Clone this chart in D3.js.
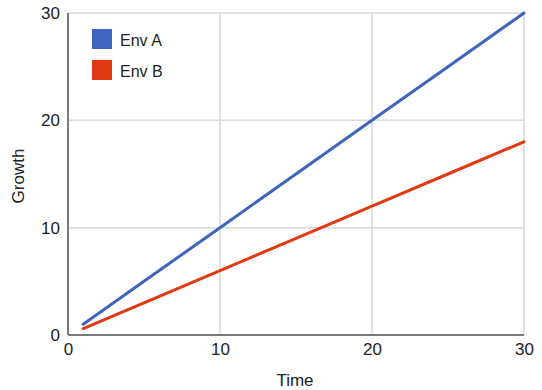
<!DOCTYPE html>
<html>
<head>
<meta charset="utf-8">
<script src="https://cdn.jsdelivr.net/npm/d3@7"></script>
<style>
  html, body { margin: 0; padding: 0; background: #fff; }
  svg { display: block; font-family: "Liberation Sans", Arial, sans-serif; }
</style>
</head>
<body>
<svg id="chart" width="542" height="390"></svg>
<script>
// Growth of two environments over time
const times = [1, 5, 10, 15, 20, 25, 30];
const envA = [1, 5, 10, 15, 20, 25, 30];
const envB = [0.6, 3, 6, 9, 12, 15, 18];
const seriesNames = ["Env A", "Env B"];
const seriesColors = ["#3f64be", "#e03a12"];
const xTicks = [0, 10, 20, 30];
const yTicks = [0, 10, 20, 30];

const svg = d3.select("#chart");
const margin = { left: 68, right: 18, top: 13, bottom: 55 };
const W = 542, H = 390;

const x = d3.scaleLinear().domain([0, 30]).range([margin.left, W - margin.right]);
const y = d3.scaleLinear().domain([0, 30]).range([H - margin.bottom, margin.top]);

// gridlines
const grid = svg.append("g");
grid.selectAll(".vg").data(xTicks.filter(d => d > 0)).join("line")
  .attr("x1", d => x(d)).attr("x2", d => x(d))
  .attr("y1", y(0)).attr("y2", y(30))
  .attr("stroke", "#d9d9d9").attr("stroke-width", 1.5);
grid.selectAll(".hg").data(yTicks.filter(d => d > 0)).join("line")
  .attr("x1", x(0)).attr("x2", x(30))
  .attr("y1", d => y(d)).attr("y2", d => y(d))
  .attr("stroke", "#d9d9d9").attr("stroke-width", 1.5);

// axis baselines
svg.append("line").attr("x1", x(0)).attr("x2", x(0)).attr("y1", y(0)).attr("y2", y(30))
  .attr("stroke", "#7a7a7a").attr("stroke-width", 2);
svg.append("line").attr("x1", x(0)).attr("x2", x(30)).attr("y1", y(0)).attr("y2", y(0))
  .attr("stroke", "#7a7a7a").attr("stroke-width", 2);

// axes (labels only)
const xAxis = svg.append("g").attr("transform", `translate(0,${y(0)})`)
  .call(d3.axisBottom(x).tickValues(xTicks).tickSize(0).tickPadding(8).tickFormat(d3.format("d")));
const yAxis = svg.append("g").attr("transform", `translate(${x(0)},0)`)
  .call(d3.axisLeft(y).tickValues(yTicks).tickSize(0).tickPadding(8).tickFormat(d3.format("d")));
[xAxis, yAxis].forEach(a => {
  a.select(".domain").remove();
  a.selectAll("text").attr("font-size", 17).attr("fill", "#222")
    .attr("font-family", "Liberation Sans, Arial, sans-serif");
});

// series lines
const line = d3.line().x((d, i) => x(times[i])).y(d => y(d));
[envA, envB].forEach((vals, i) => {
  svg.append("path").datum(vals)
    .attr("d", line)
    .attr("fill", "none")
    .attr("stroke", seriesColors[i])
    .attr("stroke-width", 3)
    .attr("stroke-linecap", "round");
});

// legend
const legend = svg.append("g");
seriesNames.forEach((name, i) => {
  const gy = 29 + i * 31;
  legend.append("rect").attr("x", 92).attr("y", gy).attr("width", 20).attr("height", 20)
    .attr("fill", seriesColors[i]);
  legend.append("text").attr("x", 120).attr("y", gy + 17)
    .attr("font-size", 16).attr("fill", "#222").text(name);
});

// axis titles
svg.append("text").attr("x", x(15) - 1).attr("y", 386)
  .attr("text-anchor", "middle").attr("font-size", 17).attr("fill", "#222").text("Time");
svg.append("text").attr("transform", `translate(24,${y(15) + 2}) rotate(-90)`)
  .attr("text-anchor", "middle").attr("font-size", 17).attr("fill", "#222").text("Growth");
</script>
</body>
</html>
